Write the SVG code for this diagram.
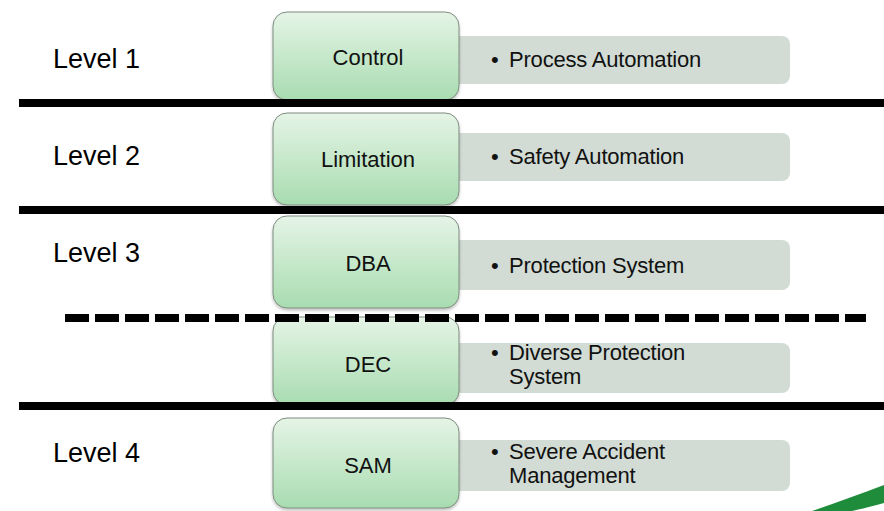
<svg xmlns="http://www.w3.org/2000/svg" width="884" height="511" viewBox="0 0 884 511">
  <defs>
    <linearGradient id="greenFill" x1="0" y1="0" x2="0" y2="1">
      <stop offset="0" stop-color="#e5f4e6"/>
      <stop offset="1" stop-color="#a8dcb0"/>
    </linearGradient>
    <filter id="soft" x="-10%" y="-10%" width="120%" height="130%">
      <feDropShadow dx="0" dy="2" stdDeviation="1.5" flood-color="#000" flood-opacity="0.25"/>
    </filter>
  </defs>
  <style>
    .lvl { font-family: "Liberation Sans", Arial, sans-serif; font-size: 27px; fill: #000; }
    .stage { fill: url(#greenFill); stroke: #7d8c7f; stroke-width: 1; filter: url(#soft); }
    .stageText { font-family: "Liberation Sans", Arial, sans-serif; font-size: 22px; fill: #111; text-anchor: middle; }
    .detail { fill: #d2dcd4; }
    .detailText { font-family: "Liberation Sans", Arial, sans-serif; font-size: 22px; fill: #111; letter-spacing: -0.2px; }
    .solid { stroke: #000; stroke-width: 8; }
    .dashed { stroke: #000; stroke-width: 8; stroke-dasharray: 24 6; }
  </style>

  <rect width="884" height="511" fill="#fff"/>

  <!-- level labels -->
  <text class="lvl" x="53" y="68">Level 1</text>
  <text class="lvl" x="53" y="165">Level 2</text>
  <text class="lvl" x="53" y="262">Level 3</text>
  <text class="lvl" x="53" y="462">Level 4</text>

  <!-- detail panels -->
  <g id="detail-control">
    <rect class="detail" x="440" y="36" width="350" height="48" rx="8"/>
    <text class="detailText" x="491" y="67">•</text>
    <text class="detailText" x="509" y="67">Process Automation</text>
  </g>
  <g id="detail-limitation">
    <rect class="detail" x="440" y="133" width="350" height="48" rx="8"/>
    <text class="detailText" x="491" y="164">•</text>
    <text class="detailText" x="509" y="164">Safety Automation</text>
  </g>
  <g id="detail-dba">
    <rect class="detail" x="440" y="240" width="350" height="50" rx="8"/>
    <text class="detailText" x="491" y="273">•</text>
    <text class="detailText" x="509" y="273">Protection System</text>
  </g>
  <g id="detail-dec">
    <rect class="detail" x="440" y="343" width="350" height="50" rx="8"/>
    <text class="detailText" x="491" y="360">•</text>
    <text class="detailText" x="509" y="360">Diverse Protection</text>
    <text class="detailText" x="509" y="384">System</text>
  </g>
  <g id="detail-sam">
    <rect class="detail" x="440" y="440" width="350" height="51" rx="8"/>
    <text class="detailText" x="491" y="459">•</text>
    <text class="detailText" x="509" y="459">Severe Accident</text>
    <text class="detailText" x="509" y="483">Management</text>
  </g>

  <!-- stage boxes -->
  <g id="node-control">
    <rect class="stage" x="273" y="12" width="186" height="88" rx="14"/>
    <text class="stageText" x="368" y="65">Control</text>
  </g>
  <g id="node-limitation">
    <rect class="stage" x="273" y="113" width="186" height="92" rx="14"/>
    <text class="stageText" x="368" y="167">Limitation</text>
  </g>
  <g id="node-dba">
    <rect class="stage" x="273" y="216" width="186" height="92" rx="14"/>
    <text class="stageText" x="368" y="271">DBA</text>
  </g>
  <g id="node-dec">
    <rect class="stage" x="273" y="317" width="186" height="88" rx="14"/>
    <text class="stageText" x="368" y="372">DEC</text>
  </g>
  <g id="node-sam">
    <rect class="stage" x="273" y="418" width="186" height="90" rx="14"/>
    <text class="stageText" x="368" y="473">SAM</text>
  </g>

  <!-- level separators -->
  <g id="separators">
    <line class="solid" x1="19" y1="103" x2="884" y2="103"/>
    <line class="solid" x1="19" y1="210" x2="884" y2="210"/>
    <line class="dashed" x1="65" y1="318" x2="866" y2="318"/>
    <line class="solid" x1="19" y1="406" x2="884" y2="406"/>
  </g>

  <!-- corner swoosh -->
  <path d="M812,511 C836,503 860,494 884,485 L884,503 C872,506 862,509 852,511 Z" fill="#1e8c3a"/>
</svg>
